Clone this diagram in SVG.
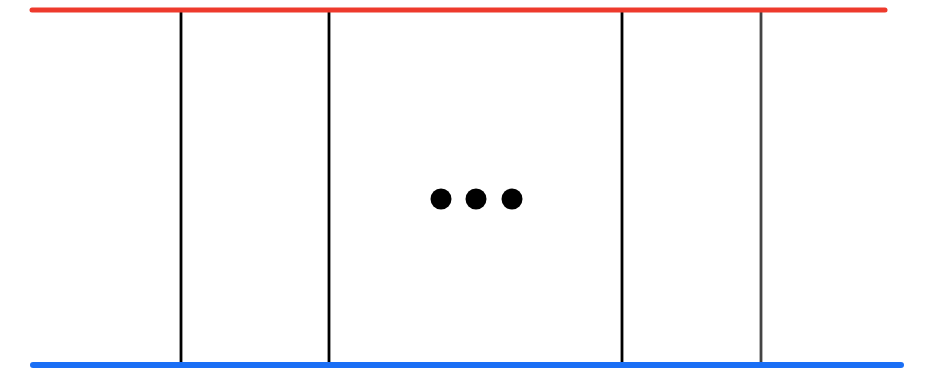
<svg xmlns="http://www.w3.org/2000/svg" width="938" height="370" viewBox="0 0 938 370">
<style>
.v{stroke:#000;stroke-width:2.8;fill:none}
.v.light{stroke:#444}
.dot{fill:#000}
</style>
<rect width="938" height="370" fill="#fff"/>
<g id="connectors">
<line id="v1" class="v" x1="181" y1="10" x2="181" y2="365"/>
<line id="v2" class="v" x1="329" y1="10" x2="329" y2="365"/>
<line id="v3" class="v" x1="622" y1="10" x2="622" y2="365"/>
<line id="v4" class="v light" x1="761" y1="10" x2="761" y2="365"/>
</g>
<g id="top-rail"><line x1="32" y1="10" x2="885" y2="10" stroke="#ee3a2c" stroke-width="5" stroke-linecap="round"/></g>
<g id="bottom-rail"><line x1="33" y1="365" x2="901" y2="365" stroke="#1a6ff5" stroke-width="6" stroke-linecap="round"/></g>
<g id="ellipsis">
<circle class="dot" cx="441" cy="199" r="10.5"/>
<circle class="dot" cx="476" cy="199" r="10.5"/>
<circle class="dot" cx="512" cy="199" r="10.5"/>
</g>
</svg>
